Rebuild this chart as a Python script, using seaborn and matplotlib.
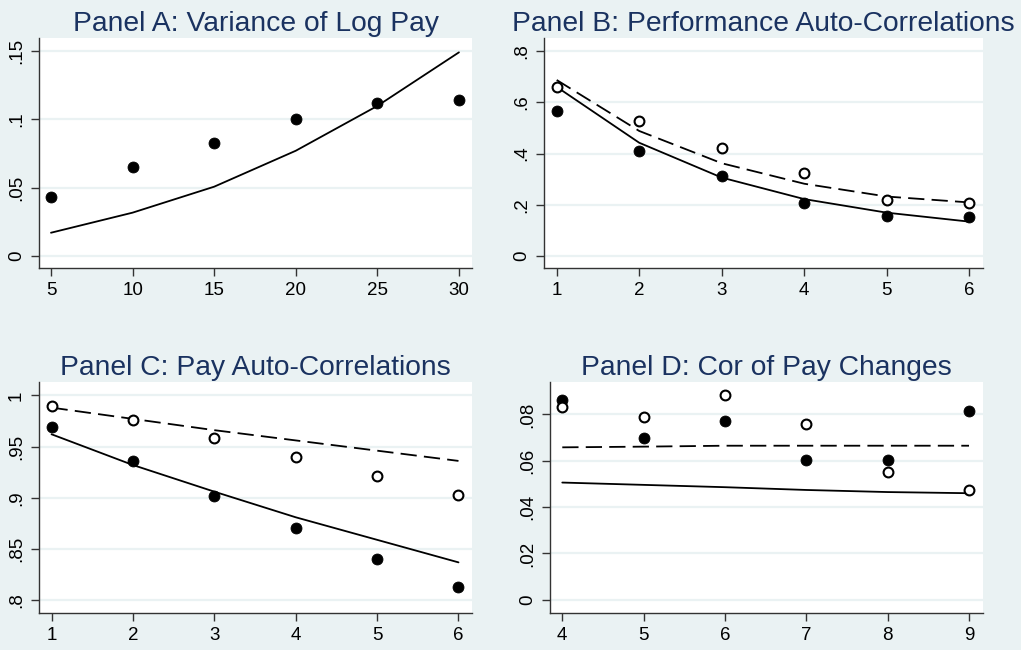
import matplotlib
matplotlib.use("Agg")
import matplotlib.pyplot as plt
import seaborn as sns
import pandas as pd

# Panel A: variance of log pay
a_x = [5, 10, 15, 20, 25, 30]
a_data = [0.0434, 0.0653, 0.0829, 0.1002, 0.1120, 0.1139]
a_model = [0.0170, 0.0317, 0.0507, 0.0770, 0.1098, 0.1490]

# Panel B: performance auto-correlations
b_x = [1, 2, 3, 4, 5, 6]
b_data1 = [0.567, 0.411, 0.313, 0.207, 0.155, 0.152]
b_data2 = [0.658, 0.528, 0.420, 0.323, 0.219, 0.206]
b_model1 = [0.660, 0.442, 0.306, 0.222, 0.169, 0.134]
b_model2 = [0.687, 0.488, 0.362, 0.282, 0.232, 0.209]

# Panel C: pay auto-correlations
c_x = [1, 2, 3, 4, 5, 6]
c_data1 = [0.969, 0.936, 0.902, 0.871, 0.840, 0.813]
c_data2 = [0.990, 0.976, 0.958, 0.940, 0.921, 0.903]
c_model1 = [0.962, 0.932, 0.906, 0.881, 0.859, 0.837]
c_model2 = [0.988, 0.977, 0.966, 0.956, 0.946, 0.936]

# Panel D: correlation of pay changes
d_x = [4, 5, 6, 7, 8, 9]
d_data1 = [0.0862, 0.0698, 0.0773, 0.0605, 0.0605, 0.0814]
d_data2 = [0.0830, 0.0787, 0.0883, 0.0758, 0.0552, 0.0474]
d_model1 = [0.0506, 0.0496, 0.0486, 0.0474, 0.0465, 0.0460]
d_model2 = [0.0658, 0.0661, 0.0665, 0.0665, 0.0665, 0.0665]

titles = ["Panel A: Variance of Log Pay", "Panel B: Performance Auto-Correlations",
          "Panel C: Pay Auto-Correlations", "Panel D: Cor of Pay Changes"]
a_yticks = [0, 0.05, 0.10, 0.15]
a_ylabels = ["0", ".05", ".1", ".15"]
b_yticks = [0, 0.2, 0.4, 0.6, 0.8]
b_ylabels = ["0", ".2", ".4", ".6", ".8"]
c_yticks = [0.80, 0.85, 0.90, 0.95, 1.0]
c_ylabels = [".8", ".85", ".9", ".95", "1"]
d_yticks = [0, 0.02, 0.04, 0.06, 0.08]
d_ylabels = ["0", ".02", ".04", ".06", ".08"]

bg = "#eaf2f3"
navy = "#1a3260"

sns.set_style("white")
plt.rcParams["font.family"] = ["Liberation Sans", "DejaVu Sans"]

fig = plt.figure(figsize=(10.21, 6.5), dpi=100)
fig.patch.set_facecolor(bg)

W, H = 1021, 650


def box(l, t, r, b):
    return [l / W, (H - b) / H, (r - l) / W, (b - t) / H]


panels = [
    (box(39, 38, 472, 268), a_x, [a_data], [a_model], a_yticks, a_ylabels, (4.265, 30.8), (-0.0088, 0.1595)),
    (box(544, 38, 983, 268), b_x, [b_data1, b_data2], [b_model1, b_model2], b_yticks, b_ylabels, (0.846, 6.166), (-0.047, 0.851)),
    (box(39, 382, 472, 613), c_x, [c_data1, c_data2], [c_model1, c_model2], c_yticks, c_ylabels, (0.846, 6.166), (0.7876, 1.013)),
    (box(550, 382, 983, 613), d_x, [d_data1, d_data2], [d_model1, d_model2], d_yticks, d_ylabels, (3.849, 9.172), (-0.0057, 0.094)),
]

for i, (rect, xs, datas, models, yt, yl, xlim, ylim) in enumerate(panels):
    ax = fig.add_axes(rect)
    ax.set_facecolor("white")
    for yv in yt:
        ax.axhline(yv, color=bg, lw=1.6, zorder=0)

    for j, m in enumerate(models):
        df = pd.DataFrame({"x": xs, "y": m})
        sns.lineplot(data=df, x="x", y="y", ax=ax, color="black", lw=1.3,
                     linestyle="-" if j == 0 else (0, (9, 4)), zorder=2)
    for j, d in enumerate(datas):
        df = pd.DataFrame({"x": xs, "y": d})
        if j == 0:
            sns.scatterplot(data=df, x="x", y="y", ax=ax, color="black", s=62,
                            edgecolor="black", linewidth=0.6, zorder=3)
        else:
            sns.scatterplot(data=df, x="x", y="y", ax=ax, facecolor="white", s=50,
                            edgecolor="black", linewidth=1.5, zorder=3)

    ax.set_xlim(*xlim)
    ax.set_ylim(*ylim)
    ax.set_xticks(xs)
    ax.set_xticklabels([str(v) for v in xs])
    ax.set_yticks(yt)
    ax.set_yticklabels(yl, rotation=90, va="center")
    ax.set_xlabel("")
    ax.set_ylabel("")
    for s in ["top", "right"]:
        ax.spines[s].set_visible(False)
    for s in ["left", "bottom"]:
        ax.spines[s].set_color("#333333")
        ax.spines[s].set_linewidth(1.0)
    ax.tick_params(axis="both", direction="out", length=6, width=1.0,
                   color="#333333", labelsize=13.5, labelcolor="black", pad=4,
                   left=True, bottom=True)
    ax.set_title(titles[i], fontsize=20.3, color=navy, pad=5)

fig.savefig("out.png", dpi=100, facecolor=bg)
